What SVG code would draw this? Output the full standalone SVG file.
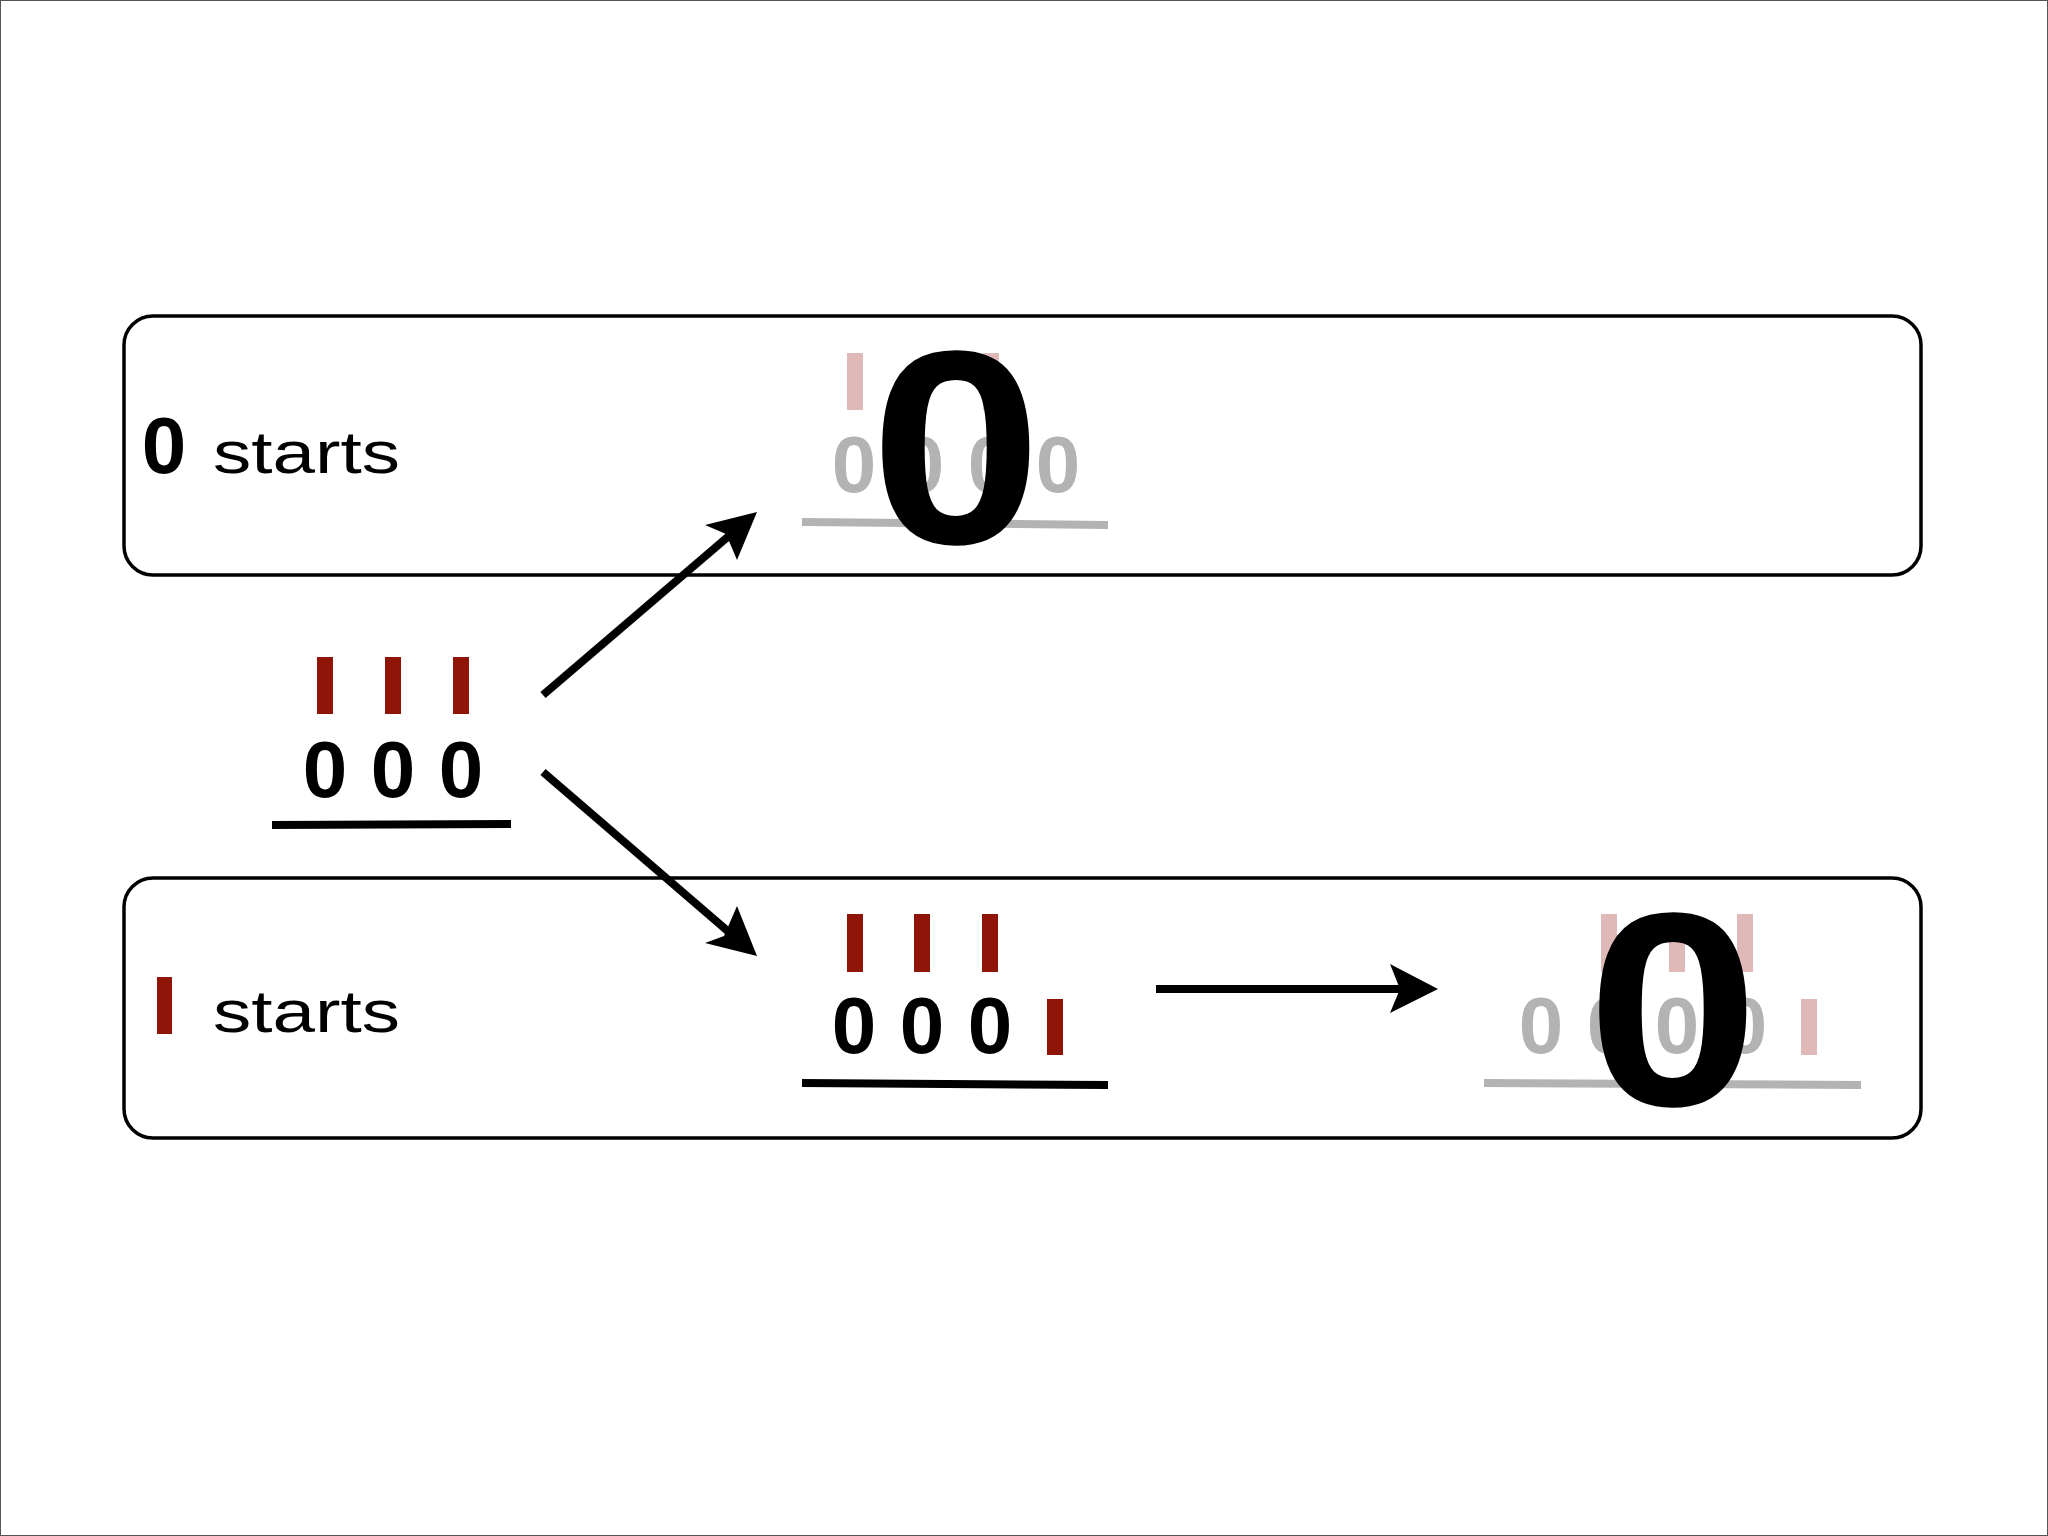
<svg xmlns="http://www.w3.org/2000/svg" width="2048" height="1536" viewBox="0 0 2048 1536">
<style>
.box{fill:none;stroke:#000;stroke-width:3.5}
.z{font-family:"Liberation Sans",Arial,sans-serif;font-weight:bold;font-size:80px;text-anchor:middle}
.t{font-family:"Liberation Sans",Arial,sans-serif;font-size:60px}
.big{font-family:"Liberation Sans",Arial,sans-serif;font-weight:bold;font-size:276px;text-anchor:middle}
.red{fill:#8f1509}.pink{fill:#dfb8b8}.gray{fill:#b3b3b3}
.ul{stroke:#000;stroke-width:8}.gul{stroke:#b3b3b3;stroke-width:8}
.ar{stroke:#000;stroke-width:8;fill:none}
</style>
<rect x="0.5" y="0.5" width="2047" height="1535" fill="#fff" stroke="#555" stroke-width="1"/>
<g id="box-zero"><rect class="box" x="124" y="316" width="1797" height="259" rx="29"/>
<text class="z" x="164" y="473">0</text><text class="t" x="213" y="473" textLength="187" lengthAdjust="spacingAndGlyphs">starts</text></g>
<g id="box-one"><rect class="box" x="124" y="878" width="1797" height="260" rx="29"/>
<rect class="red" x="157" y="977" width="15" height="57"/><text class="t" x="213" y="1032" textLength="187" lengthAdjust="spacingAndGlyphs">starts</text></g>
<g id="start">
<rect class="red" x="317" y="657" width="16" height="57"/><rect class="red" x="385" y="657" width="16" height="57"/><rect class="red" x="453" y="657" width="16" height="57"/>
<text class="z" x="325" y="797">0</text><text class="z" x="393" y="797">0</text><text class="z" x="461" y="797">0</text>
<line class="ul" x1="272" y1="825" x2="511" y2="824"/></g>
<g id="top-result">
<rect class="pink" x="847" y="353" width="16" height="57"/><rect class="pink" x="983" y="353" width="16" height="57"/>
<text class="z gray" x="854" y="492">0</text><text class="z gray" x="922" y="492">0</text><text class="z gray" x="990" y="492">0</text><text class="z gray" x="1058" y="492">0</text>
<line class="gul" x1="802" y1="522" x2="1108" y2="525"/>
<text class="big" transform="translate(956 543) scale(1.12 1)" x="0" y="0">0</text></g>
<g id="bottom-mid">
<rect class="red" x="847" y="914" width="16" height="58"/><rect class="red" x="914" y="914" width="16" height="58"/><rect class="red" x="982" y="914" width="16" height="58"/>
<text class="z" x="854" y="1053">0</text><text class="z" x="922" y="1053">0</text><text class="z" x="990" y="1053">0</text>
<rect class="red" x="1047" y="999" width="16" height="56"/>
<line class="ul" x1="802" y1="1083" x2="1108" y2="1085"/></g>
<g id="bottom-result">
<rect class="pink" x="1601" y="914" width="16" height="58"/><rect class="pink" x="1669" y="914" width="16" height="58"/><rect class="pink" x="1737" y="914" width="16" height="58"/>
<text class="z gray" x="1541" y="1053">0</text><text class="z gray" x="1609" y="1053">0</text><text class="z gray" x="1677" y="1053">0</text><text class="z gray" x="1745" y="1053">0</text>
<rect class="pink" x="1801" y="999" width="16" height="56"/>
<line class="gul" x1="1484" y1="1083" x2="1861" y2="1085"/>
<text class="big" transform="translate(1673 1105) scale(1.12 1)" x="0" y="0">0</text></g>
<g id="connectors">
<line class="ar" x1="543" y1="695" x2="730" y2="535"/><polygon points="757,512 705,525 726,534 737,560"/>
<line class="ar" x1="543" y1="772" x2="730" y2="933"/><polygon points="757,956 705,943 724,936 737,906"/>
<line class="ar" x1="1156" y1="989" x2="1405" y2="989"/><polygon points="1438,989 1390,964 1400,989 1390,1013"/>
</g>
</svg>
